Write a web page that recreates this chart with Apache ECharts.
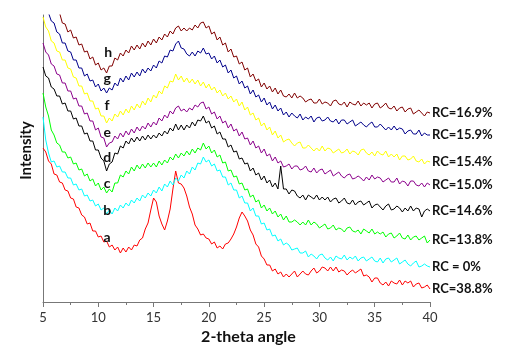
<!DOCTYPE html>
<html>
<head>
<meta charset="utf-8">
<script src="https://cdn.jsdelivr.net/npm/echarts@6/dist/echarts.min.js"></script>
<style>
  html, body { margin: 0; padding: 0; background: #fff; }
  #chart { width: 506px; height: 350px; }
</style>
</head>
<body>
<div id="chart"></div>
<script>
// 2-theta grid: 5 to 40 in 0.25 steps (141 points per pattern)
const twoTheta = [];
for (let i = 0; i <= 140; i++) twoTheta.push(5 + i * 0.25);

// intensities (arbitrary units, 4 values per degree)
const curveA = [
  154, 150, 141, 138,  128, 127, 120, 119,  112, 111, 104, 103,  95, 94, 87, 85,
  78, 79, 71, 71,  65, 66, 60, 61,  55, 57, 52, 55,  49, 54, 50, 55,
  52, 57, 56, 62,  64, 73, 79, 92,  104, 100, 86, 78,  72, 81, 93, 113,
  131, 119, 118, 114,  106, 95, 88, 77,  73, 67, 68, 64,  63, 58, 60, 54,
  56, 53, 58, 59,  63, 68, 75, 84,  90, 86, 81, 72,  67, 58, 55, 46,
  43, 37, 37, 31,  33, 28, 30, 25,  28, 25, 28, 31,  25, 28, 31, 28,
  27, 31, 34, 29,  31, 35, 34, 31,  35, 31, 35, 30,  32, 31, 27, 30,
  32, 29, 31, 33,  26, 27, 25, 20,  24, 24, 19, 17,  20, 16, 21, 19,
  18, 22, 17, 21,  19, 21, 15, 18,  19, 14, 15, 17,  13
];
const curveB = [
  185, 162, 149, 140,  141, 135, 136, 130,  130, 124, 124, 117,  118, 112, 113, 106,
  107, 101, 102, 96,  98, 92, 94, 88,  92, 88, 94, 91,  97, 94, 99, 96,
  102, 99, 104, 101,  107, 104, 109, 106,  112, 109, 115, 111,  118, 115, 121, 117,
  124, 121, 127, 124,  131, 128, 135, 132,  139, 138, 145, 140,  142, 136, 138, 131,
  132, 125, 125, 117,  119, 112, 112, 104,  106, 99, 99, 91,  94, 86, 86, 78,
  79, 72, 73, 66,  67, 61, 63, 57,  59, 57, 52, 53,  54, 49, 49, 51,
  45, 48, 46, 43,  47, 48, 44, 42,  45, 41, 46, 44,  43, 47, 42, 45,
  43, 46, 41, 44,  45, 41, 43, 45,  41, 40, 44, 39,  43, 44, 40, 42,
  44, 38, 40, 42,  38, 36, 39, 41,  35, 36, 38, 36,  35
];
const curveC = [
  209, 195, 186, 172,  167, 159, 157, 150,  150, 144, 145, 138,  139, 132, 133, 126,
  128, 121, 123, 116,  119, 112, 115, 109,  113, 110, 119, 119,  127, 125, 131, 128,
  135, 131, 137, 133,  138, 134, 139, 135,  139, 135, 141, 137,  142, 139, 145, 142,
  148, 144, 149, 146,  151, 147, 153, 149,  154, 152, 159, 153,  156, 149, 152, 145,
  147, 139, 140, 131,  132, 125, 126, 118,  119, 112, 113, 105,  107, 100, 102, 94,
  97, 91, 94, 88,  91, 85, 88, 82,  86, 80, 80, 82,  80, 77, 80, 77,
  82, 77, 80, 78,  74, 76, 78, 73,  74, 77, 72, 74,  73, 70, 74, 75,
  71, 70, 72, 68,  73, 71, 69, 73,  68, 70, 68, 70,  65, 68, 69, 64,
  66, 69, 64, 63,  67, 62, 65, 66,  62, 64, 66, 59,  62
];
const curveD = [
  235, 226, 224, 215,  213, 206, 206, 198,  199, 191, 191, 183,  184, 176, 176, 168,
  169, 161, 161, 152,  152, 144, 141, 131,  138, 140, 149, 148,  156, 154, 161, 158,
  164, 160, 165, 161,  166, 162, 167, 163,  167, 164, 169, 166,  171, 168, 174, 171,
  178, 172, 177, 172,  177, 174, 180, 176,  182, 181, 186, 179,  181, 174, 176, 168,
  170, 163, 163, 155,  157, 150, 151, 143,  144, 138, 139, 131,  134, 127, 129, 122,
  126, 119, 122, 115,  119, 113, 136, 113,  113, 108, 112, 111,  106, 104, 107, 102,
  107, 105, 103, 107,  102, 105, 102, 105,  100, 103, 104, 99,  101, 104, 99, 98,
  102, 97, 100, 101,  97, 99, 101, 94,  97, 98, 95, 92,  96, 98, 92, 93,
  96, 94, 90, 94,  91, 96, 91, 94,  93, 85, 91, 93,  91
];
const curveE = [
  259, 250, 247, 238,  236, 228, 227, 219,  219, 211, 211, 203,  204, 196, 196, 188,
  189, 181, 181, 172,  174, 165, 164, 155,  159, 160, 166, 163,  169, 165, 171, 167,
  173, 169, 175, 171,  176, 173, 179, 175,  180, 177, 184, 181,  187, 184, 191, 188,
  194, 196, 191, 193,  190, 194, 192, 197,  195, 199, 200, 193,  195, 188, 190, 183,
  186, 179, 181, 174,  178, 171, 173, 166,  170, 163, 164, 157,  161, 154, 156, 149,
  153, 146, 148, 141,  145, 139, 141, 135,  136, 138, 133, 136,  136, 132, 133, 136,
  131, 130, 134, 129,  132, 133, 128, 130,  132, 126, 128, 130,  126, 124, 127, 128,
  123, 124, 126, 124,  121, 125, 122, 127,  123, 125, 124, 120,  122, 124, 120, 120,
  124, 118, 121, 120,  116, 121, 121, 117,  116, 119, 115, 119,  117
];
const curveF = [
  285, 275, 271, 261,  259, 251, 250, 242,  242, 234, 233, 225,  224, 216, 216, 208,
  209, 201, 201, 193,  194, 186, 186, 179,  184, 181, 188, 185,  191, 187, 193, 189,
  196, 192, 198, 194,  201, 197, 204, 200,  207, 204, 211, 208,  216, 214, 221, 220,
  228, 222, 226, 220,  224, 219, 223, 218,  222, 216, 220, 214,  218, 212, 215, 209,
  212, 206, 209, 203,  206, 200, 203, 196,  200, 192, 195, 187,  189, 182, 184, 176,
  179, 172, 175, 167,  171, 164, 167, 160,  162, 163, 159, 156,  159, 160, 154, 154,
  157, 154, 151, 154,  151, 156, 151, 154,  153, 149, 151, 153,  149, 150, 153, 148,
  151, 150, 147, 152,  153, 149, 147, 150,  146, 151, 148, 147,  151, 145, 148, 145,
  148, 142, 146, 146,  142, 143, 146, 141,  140, 143, 138, 141,  140
];
const curveG = [
  312, 299, 289, 281,  279, 270, 268, 259,  259, 251, 250, 242,  242, 234, 234, 226,
  228, 221, 222, 215,  218, 211, 214, 209,  214, 212, 219, 216,  224, 220, 226, 222,
  229, 225, 230, 226,  233, 229, 234, 231,  237, 234, 241, 239,  246, 245, 252, 251,
  258, 261, 254, 253,  248, 246, 250, 246,  251, 249, 254, 248,  249, 243, 246, 239,
  242, 235, 237, 229,  232, 224, 226, 218,  221, 214, 216, 208,  212, 205, 207, 200,
  204, 197, 200, 193,  197, 191, 194, 187,  190, 185, 189, 186,  184, 188, 182, 185,
  183, 186, 180, 184,  185, 181, 182, 185,  181, 180, 183, 178,  182, 182, 178, 180,
  182, 176, 178, 180,  177, 175, 178, 180,  175, 175, 178, 175,  172, 175, 172, 176,
  172, 174, 173, 168,  171, 172, 168, 168,  172, 166, 169, 167,  167
];
const curveH = [
  338, 327, 321, 310,  305, 294, 289, 279,  278, 270, 272, 264,  265, 257, 258, 250,
  251, 243, 245, 237,  239, 232, 234, 229,  236, 236, 244, 242,  249, 246, 252, 249,
  256, 252, 257, 253,  259, 255, 261, 257,  263, 259, 265, 262,  268, 265, 271, 268,
  274, 276, 271, 274,  271, 274, 272, 277,  274, 279, 280, 274,  276, 268, 270, 262,
  265, 257, 259, 250,  253, 245, 246, 238,  240, 232, 234, 225,  228, 221, 223, 215,
  219, 213, 216, 210,  214, 208, 212, 206,  205, 208, 204, 209,  204, 206, 204, 200,
  202, 203, 199, 199,  203, 198, 200, 199,  196, 201, 202, 198,  197, 200, 195, 200,
  198, 197, 201, 196,  199, 197, 199, 194,  198, 199, 194, 196,  199, 194, 193, 196,
  191, 194, 195, 190,  193, 194, 188, 190,  192, 189, 186, 190,  189
];

const patterns = [curveA, curveB, curveC, curveD, curveE, curveF, curveG, curveH];
const letters = ["a", "b", "c", "d", "e", "f", "g", "h"];
const rcLabels = ["RC=38.8%", "RC = 0%", "RC=13.8%", "RC=14.6%", "RC=15.0%", "RC=15.4%", "RC=15.9%", "RC=16.9%"];
// where each letter sits (2-theta, intensity)
const letterTheta = [10.8, 10.8, 10.8, 10.8, 10.8, 10.8, 10.8, 10.9];
const letterIntensity = [65, 92, 119, 145, 170, 197, 224, 250];
const xTicks = [5, 10, 15, 20, 25, 30, 35, 40];

const colors = ["#ff0000", "#00ffff", "#00ff00", "#000000", "#8b008b", "#ffff00", "#00008b", "#800000"];

const chart = echarts.init(document.getElementById("chart"));

const series = patterns.map((vals, i) => ({
  type: "line",
  name: letters[i],
  data: vals.map((v, j) => [twoTheta[j], v]),
  showSymbol: false,
  symbol: "none",
  clip: true,
  lineStyle: { color: colors[i], width: 1 },
  itemStyle: { color: colors[i] },
  endLabel: {
    show: true,
    formatter: () => rcLabels[i],
    distance: 2,
    fontFamily: "Lato",
    fontWeight: "bold",
    fontSize: 13,
    color: "#111"
  },
  markPoint: {
    symbol: "circle",
    symbolSize: 0,
    silent: true,
    label: {
      show: true,
      position: "inside",
      formatter: letters[i],
      fontFamily: "Lato",
      fontWeight: "bold",
      fontSize: 14,
      color: "#111"
    },
    data: [{ coord: [letterTheta[i], letterIntensity[i]] }]
  }
}));

const option = {
  animation: false,
  grid: {
    left: 43,
    right: 76,
    top: 15,
    bottom: 48
  },
  xAxis: {
    type: "value",
    min: 5,
    max: 40,
    interval: 5,
    name: "2-theta angle",
    nameLocation: "middle",
    nameGap: 24,
    nameTextStyle: {
      fontFamily: "Lato",
      fontWeight: "bold",
      fontSize: 16,
      color: "#111",
      padding: [0, 0, 0, 24]
    },
    axisLine: { lineStyle: { color: "#777", width: 1 } },
    axisTick: { show: true, inside: false, length: 5, lineStyle: { color: "#777" } },
    minorTick: { show: true, splitNumber: 2, length: 3, lineStyle: { color: "#777" } },
    splitLine: { show: false },
    axisLabel: {
      margin: 9,
      fontFamily: "Lato",
      fontSize: 13,
      color: "#333",
      formatter: (v) => (xTicks.includes(v) ? String(v) : "")
    }
  },
  yAxis: {
    type: "value",
    min: 0,
    max: 287,
    name: "Intensity",
    nameLocation: "middle",
    nameGap: 9,
    nameTextStyle: {
      fontFamily: "Lato",
      fontWeight: "bold",
      fontSize: 15,
      color: "#111",
      padding: [0, 0, 0, 16]
    },
    axisLine: { show: true, lineStyle: { color: "#777", width: 1 } },
    axisTick: { show: false },
    axisLabel: { show: false },
    splitLine: { show: false }
  },
  series: series
};

chart.setOption(option);
</script>
</body>
</html>
